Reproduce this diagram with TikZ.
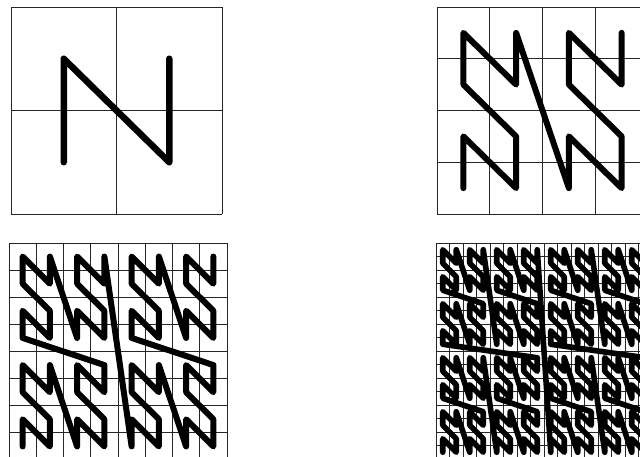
\documentclass[tikz,border=0pt]{standalone}
\tikzset{
  gridline/.style={line width=0.9pt, black!85},
  curvestroke/.style={line width=#1, line join=round, line cap=round, black},
}
% #1 left px, #2 top px, #3 width px, #4 height px, #5 order, #6 stroke width
\newcommand\npanel[6]{%
  \pgfmathtruncatemacro\NN{2^#5}%
  \pgfmathtruncatemacro\MM{\NN*\NN-1}%
  \pgfmathsetmacro\cw{#3/\NN}%
  \pgfmathsetmacro\ch{#4/\NN}%
  \pgfmathsetmacro\by{457-#2-#4}%
  \begin{scope}[shift={(#1pt,\by pt)}, x={(\cw pt,0)}, y={(0,\ch pt)}]
    \foreach \k in {0,...,\NN} {
      \draw[gridline] (\k,0) -- (\k,\NN);
      \draw[gridline] (0,\k) -- (\NN,\k);
    }
    \draw[curvestroke=#6] (0.5,0.5)
      \foreach \i in {1,...,\MM} {
        -- ({mod(floor(\i/2),2)+2*mod(floor(\i/8),2)+4*mod(floor(\i/32),2)+8*mod(floor(\i/128),2)+0.5},
            {mod(\i,2)+2*mod(floor(\i/4),2)+4*mod(floor(\i/16),2)+8*mod(floor(\i/64),2)+0.5})
      };
  \end{scope}%
}
\begin{document}
\begin{tikzpicture}[x=1pt,y=1pt]
  \useasboundingbox (0,0) rectangle (640,457);
  \fill[white] (0,0) rectangle (640,457);
  \clip (0,0) rectangle (640,457);
  \npanel{11}{7}{211}{207}{1}{6.5pt}
  \npanel{437}{7}{211}{207}{2}{6pt}
  \npanel{9}{243}{218}{217}{3}{6pt}
  \npanel{436}{243}{216}{216}{4}{5.6pt}
\end{tikzpicture}
\end{document}
